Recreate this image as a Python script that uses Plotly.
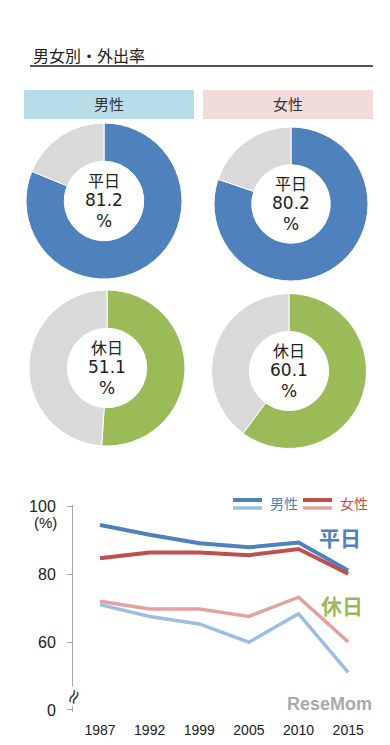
import plotly.graph_objects as go

W, H = 390, 745

# ---- data ----
years = ["1987", "1992", "1999", "2005", "2010", "2015"]
male_weekday = [94.6, 91.7, 89.2, 88.0, 89.4, 81.2]
female_weekday = [84.8, 86.5, 86.5, 85.7, 87.5, 80.2]
male_holiday = [71.1, 67.6, 65.4, 60.0, 68.4, 51.1]
female_holiday = [72.1, 69.8, 69.8, 67.6, 73.3, 60.1]

donut_labels = ["外出", "非外出"]
donut_male_weekday = [81.2, 18.8]
donut_female_weekday = [80.2, 19.8]
donut_male_holiday = [51.1, 48.9]
donut_female_holiday = [60.1, 39.9]

y_tickvals = [40, 60, 80, 100]
y_ticktext = ["0", "60", "80", "100"]

# ---- colours ----
BLUE = "#4f81bd"
RED = "#c0504d"
LBLUE = "#9dbde3"
LRED = "#e3a2a1"
GREEN = "#9bbb59"
GRAY = "#d9d9d9"
FONT = "Noto Sans CJK JP"


def px(x):
    return x / W


def py(y):
    return 1 - y / H


fig = go.Figure()

# ---- donuts ----
donuts = [
    (donut_male_weekday, BLUE, (26, 182), (123, 279), "平日"),
    (donut_female_weekday, BLUE, (214, 368), (127, 281), "平日"),
    (donut_male_holiday, GREEN, (29, 185), (290, 446), "休日"),
    (donut_female_holiday, GREEN, (211.5, 366.5), (293.5, 448.5), "休日"),
]
annotations = []
for vals, col, (x0, x1), (y0, y1), lab in donuts:
    fig.add_trace(go.Pie(
        labels=donut_labels, values=vals, hole=0.51, sort=False,
        direction="clockwise", rotation=0,
        marker=dict(colors=[col, GRAY], line=dict(color="white", width=1)),
        textinfo="none", hoverinfo="label+value", showlegend=False,
        domain=dict(x=[px(x0), px(x1)], y=[py(y1), py(y0)]),
    ))
    cx = (x0 + x1) / 2
    cy = (y0 + y1) / 2
    for txt, dy, fam, sz in [(lab, -21, FONT, 16),
                             (f"{vals[0]:.1f}", -1, "DejaVu Sans", 17),
                             ("%", 20, "DejaVu Sans", 17)]:
        annotations.append(dict(
            x=px(cx), y=py(cy + dy), xref="paper", yref="paper",
            text=txt, showarrow=False,
            font=dict(family=fam, size=sz, color="#222222"),
            xanchor="center", yanchor="middle", align="center",
        ))

# ---- line chart ----
series = [
    (male_weekday, BLUE, 4, "男性 平日"),
    (female_weekday, RED, 4, "女性 平日"),
    (female_holiday, LRED, 3.5, "女性 休日"),
    (male_holiday, LBLUE, 3.5, "男性 休日"),
]
for vals, col, w, name in series:
    fig.add_trace(go.Scatter(
        x=years, y=vals, mode="lines", name=name,
        line=dict(color=col, width=w), showlegend=False,
        xaxis="x", yaxis="y",
    ))

fig.update_layout(
    width=W, height=H, margin=dict(l=0, r=0, t=0, b=0, autoexpand=False),
    autosize=False,
    paper_bgcolor="white", plot_bgcolor="white",
    xaxis=dict(
        domain=[px(73), px(373)], anchor="y", type="category",
        range=[-0.544, 5.5], showgrid=False, zeroline=False, showline=False,
        ticks="", ticklabelstandoff=8,
        tickfont=dict(family="Liberation Sans", size=14, color="#222222"),
        fixedrange=True, automargin=False,
    ),
    yaxis=dict(
        domain=[py(712), py(505)], anchor="x", range=[39.4, 100.5],
        tickvals=y_tickvals, ticktext=y_ticktext,
        showgrid=False, zeroline=False, showline=True, linecolor="#a6a6a6",
        linewidth=1, ticks="outside", ticklen=5, tickcolor="#a6a6a6",
        ticklabelstandoff=8,
        tickfont=dict(family="Liberation Sans", size=16, color="#222222"),
        fixedrange=True, automargin=False,
    ),
)

shapes = []
# header boxes
shapes.append(dict(type="rect", xref="paper", yref="paper",
                   x0=px(24), x1=px(194), y0=py(119), y1=py(90),
                   fillcolor="#b7dde8", line=dict(width=0), layer="below"))
shapes.append(dict(type="rect", xref="paper", yref="paper",
                   x0=px(203), x1=px(373), y0=py(119), y1=py(90),
                   fillcolor="#f2dcdb", line=dict(width=0), layer="below"))
# title underline
shapes.append(dict(type="line", xref="paper", yref="paper",
                   x0=px(30), x1=px(373), y0=py(66), y1=py(66),
                   line=dict(color="#555555", width=2)))
# legend lines
for (x0, x1), col, yy, w in [((233, 262), BLUE, 500, 4), ((233, 262), LBLUE, 508, 3.5),
                             ((303, 332), RED, 500, 4), ((303, 332), LRED, 508, 3.5)]:
    shapes.append(dict(type="line", xref="paper", yref="paper",
                       x0=px(x0), x1=px(x1), y0=py(yy), y1=py(yy),
                       line=dict(color=col, width=w)))
fig.update_layout(shapes=shapes)

annotations += [
    dict(x=px(31), y=py(55), xref="paper", yref="paper", text="男女別・外出率",
         showarrow=False, xanchor="left", yanchor="middle",
         font=dict(family=FONT, size=16, color="#222222")),
    dict(x=px(109), y=py(104), xref="paper", yref="paper", text="男性",
         showarrow=False, xanchor="center", yanchor="middle",
         font=dict(family=FONT, size=15, color="#333333")),
    dict(x=px(288), y=py(104), xref="paper", yref="paper", text="女性",
         showarrow=False, xanchor="center", yanchor="middle",
         font=dict(family=FONT, size=15, color="#333333")),
    dict(x=px(59), y=py(522), xref="paper", yref="paper", text="(%)",
         showarrow=False, xanchor="right", yanchor="middle",
         font=dict(family="Liberation Sans", size=15, color="#222222")),
    dict(x=px(268), y=py(503), xref="paper", yref="paper", text="男性",
         showarrow=False, xanchor="left", yanchor="middle",
         font=dict(family=FONT, size=14, color=BLUE)),
    dict(x=px(338), y=py(503), xref="paper", yref="paper", text="女性",
         showarrow=False, xanchor="left", yanchor="middle",
         font=dict(family=FONT, size=14, color=RED)),
    dict(x=px(340), y=py(537), xref="paper", yref="paper", text="<b>平日</b>",
         showarrow=False, xanchor="center", yanchor="middle",
         font=dict(family=FONT, size=21, color=BLUE)),
    dict(x=px(342), y=py(605), xref="paper", yref="paper", text="<b>休日</b>",
         showarrow=False, xanchor="center", yanchor="middle",
         font=dict(family=FONT, size=21, color=GREEN)),
    dict(x=px(73), y=py(697), xref="paper", yref="paper", text="≈",
         showarrow=False, xanchor="center", yanchor="middle", textangle=-65,
         bgcolor="white", borderpad=0,
         font=dict(family="DejaVu Sans", size=20, color="#444444")),
    dict(x=px(374), y=py(704), xref="paper", yref="paper", text="<b>ReseMom</b>",
         showarrow=False, xanchor="right", yanchor="middle", opacity=0.5,
         font=dict(family="Liberation Sans", size=18, color="#555555")),
]
fig.update_layout(annotations=annotations)

fig.write_html("out.html", config={"responsive": False, "displayModeBar": False},
               post_script="document.body.style.margin='0';document.body.style.padding='0';")
